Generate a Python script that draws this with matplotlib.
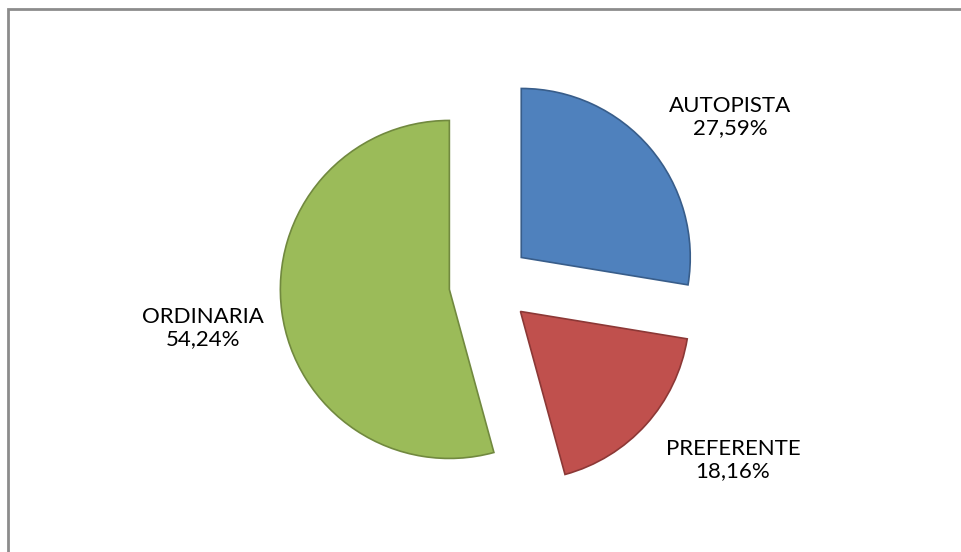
import matplotlib.pyplot as plt
from matplotlib.patches import Rectangle

categories = ["AUTOPISTA", "PREFERENTE", "ORDINARIA"]
values = [27.59, 18.16, 54.24]
colors = ["#4F81BD", "#C0504D", "#9BBB59"]
edges = ["#385D8A", "#8C3836", "#71893F"]

# label anchor points (pixels, origin bottom-left)
label_pos = [(730, 435), (733, 92), (203, 224)]

fig = plt.figure(figsize=(9.61, 5.52), dpi=100)
ax = fig.add_axes([0, 0, 1, 1])

wedges, _ = ax.pie(values, colors=colors, startangle=90, counterclock=False,
                   radius=169, center=(490, 268), explode=[41] * 3,
                   wedgeprops=dict(linewidth=1.2), frame=True)
for w, ec in zip(wedges, edges):
    w.set_edgecolor(ec)
ax.set_xlim(0, 961)
ax.set_ylim(0, 552)
ax.set_aspect("equal")
ax.axis("off")

for name, v, (x, y) in zip(categories, values, label_pos):
    txt = "%s\n%s%%" % (name, ("%.2f" % v).replace(".", ","))
    ax.text(x, y, txt, ha="center", va="center", fontsize=16,
            family="Lato", linespacing=1.17, color="black")

# chart border (only top/left visible)
ax.add_patch(Rectangle((8, -20), 1000, 552 - 9 + 20, fill=False,
                       edgecolor="#8C8C8C", linewidth=2, clip_on=False))

fig.savefig("out.png", dpi=100)
